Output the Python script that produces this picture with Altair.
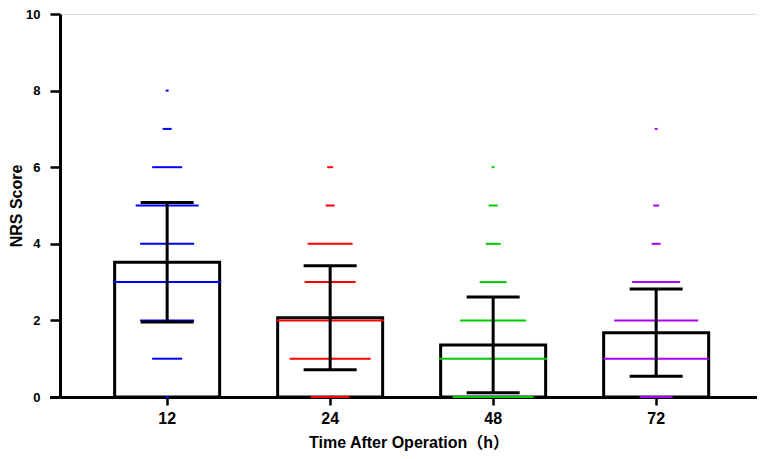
import altair as alt
import pandas as pd

# ---- data ----
groups = ["12", "24", "48", "72"]
means = [3.52, 2.07, 1.36, 1.68]
sds = [1.56, 1.36, 1.25, 1.14]
colors = ["#0000FF", "#FF0000", "#00CC00", "#AA00FF"]

# individual NRS scores (value -> number of patients) per time point
scores_12 = [0, 1, 2, 3, 4, 5, 6, 7, 8]
counts_12 = [1, 10, 18, 36, 18, 21, 10, 3, 1]
scores_24 = [0, 1, 2, 3, 4, 5, 6]
counts_24 = [13, 27, 36, 17, 15, 3, 2]
scores_48 = [0, 1, 2, 3, 4, 5, 6]
counts_48 = [27, 36, 22, 9, 5, 3, 1]
scores_72 = [0, 1, 2, 3, 4, 5, 7]
counts_72 = [11, 35, 28, 16, 3, 2, 1]

y_ticks = [0, 2, 4, 6, 8, 10]

# ---- tables ----
summary = pd.DataFrame({
    "group": groups,
    "mean": means,
    "sd": sds,
})
summary["lo"] = summary["mean"] - summary["sd"]
summary["hi"] = summary["mean"] + summary["sd"]

rows = []
for g, sc, ct in [("12", scores_12, counts_12), ("24", scores_24, counts_24),
                  ("48", scores_48, counts_48), ("72", scores_72, counts_72)]:
    for s, c in zip(sc, ct):
        rows.append({"group": g, "score": s, "count": c})
points = pd.DataFrame(rows)

FONT = "Liberation Sans, Arial, Noto Sans CJK SC"
W, H = 697, 383

xenc = alt.X(
    "group:N",
    sort=groups,
    scale=alt.Scale(paddingInner=0, paddingOuter=0.138, align=0.57),
    axis=alt.Axis(
        title="Time After Operation（h）",
        labelAngle=0,
        labelFontSize=16,
        labelFontWeight="bold",
        labelFont=FONT,
        labelColor="black",
        labelPadding=5,
        tickSize=8,
        tickWidth=2.5,
        tickColor="black",
        domainWidth=3,
        domainColor="black",
        titleFontSize=16,
        titleFontWeight="bold",
        titleFont=FONT,
        titleColor="black",
        titlePadding=8,
    ),
)
yscale = alt.Scale(domain=[0, 10], nice=False)
yaxis = alt.Axis(
    title="NRS Score",
    values=y_ticks,
    grid=False,
    labelFontSize=13,
    labelFontWeight="bold",
    labelFont=FONT,
    labelColor="black",
    labelPadding=10,
    tickSize=10,
    tickWidth=2.5,
    tickColor="black",
    domainWidth=3,
    domainColor="black",
    titleFontSize=16,
    titleFontWeight="bold",
    titleFont=FONT,
    titleColor="black",
    titlePadding=1,
)

bars = alt.Chart(summary).mark_bar(
    width=105, fill="white", stroke="black", strokeWidth=3
).encode(
    x=xenc,
    y=alt.Y("mean:Q", scale=yscale, axis=yaxis),
)

dashes = alt.Chart(points).mark_tick(thickness=2, opacity=1).encode(
    x=alt.X("group:N", sort=groups),
    y=alt.Y("score:Q"),
    size=alt.Size("count:Q", scale=alt.Scale(domain=[0, 36], range=[0, 108]), legend=None),
    color=alt.Color("group:N", scale=alt.Scale(domain=groups, range=colors), legend=None),
)

err = alt.Chart(summary).mark_rule(color="black", strokeWidth=3).encode(
    x=alt.X("group:N", sort=groups),
    y="lo:Q",
    y2="hi:Q",
)
cap_hi = alt.Chart(summary).mark_tick(color="black", thickness=3, size=53, opacity=1).encode(
    x=alt.X("group:N", sort=groups),
    y="hi:Q",
)
cap_lo = alt.Chart(summary).mark_tick(color="black", thickness=3, size=53, opacity=1).encode(
    x=alt.X("group:N", sort=groups),
    y="lo:Q",
)

# small extension of the x axis line to the left of the y axis (as in the reference)
axis_ext = alt.Chart(summary).mark_rule(color="black", strokeWidth=3).encode(
    x=alt.value(-10), x2=alt.value(0), y=alt.value(H + 0.5)
)

chart = alt.layer(bars, dashes, err, cap_hi, cap_lo, axis_ext).properties(
    width=W,
    height=H,
    autosize=alt.AutoSizeParams(type="none"),
    padding={"left": 52, "top": 6, "right": 0, "bottom": 54},
).configure_view(stroke=None).configure(background="white")

chart.save("out.html", embed_options={"renderer": "svg", "actions": False})
